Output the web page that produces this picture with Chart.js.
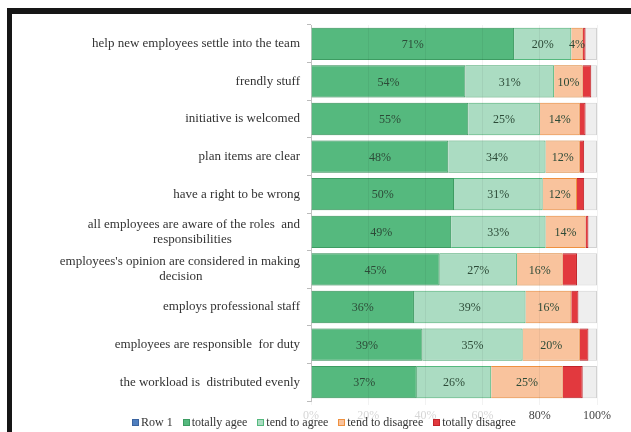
<!DOCTYPE html>
<html>
<head>
<meta charset="utf-8">
<script src="https://cdn.jsdelivr.net/npm/chart.js@4.4.0/dist/chart.umd.min.js"></script>
<style>
    body { margin: 0; background: #fff; }
    #wrap { position: relative; width: 631px; height: 432px; overflow: hidden; }
    #frame { position: absolute; left: 7px; top: 8px; right: 0; bottom: 0;
             border-top: 6px solid #161616; border-left: 5px solid #161616; }
    #chart { position: absolute; left: 0; top: 0; }
    #legend { position: absolute; left: 132px; top: 415px; display: flex;
              font: 12px "Liberation Serif", serif; color: #333; white-space: nowrap; }
    #legend .item { display: flex; align-items: center; margin-right: 10px; }
    #legend .box { width: 5px; height: 5px; border: 1px solid; margin-right: 2px; }
</style>
</head>
<body>
<div id="wrap">
    <div id="frame"></div>
    <canvas id="chart" width="631" height="432"></canvas>
    <div id="legend"></div>
</div>
<script>
// categories (top to bottom)
const categories = [
    "help new employees settle into the team",
    "frendly stuff",
    "initiative is welcomed",
    "plan items are clear",
    "have a right to be wrong",
    ["all employees are aware of the roles  and", "responsibilities"],
    ["employees's opinion are considered in making", "decision"],
    "employs professional staff",
    "employees are responsible  for duty",
    "the workload is  distributed evenly"
];

// series values, in %
const row1 = [];
const totallyAgree    = [71, 54, 55, 48, 50, 49, 45, 36, 39, 37];
const tendToAgree     = [20, 31, 25, 34, 31, 33, 27, 39, 35, 26];
const tendToDisagree  = [4, 10, 14, 12, 12, 14, 16, 16, 20, 25];
const totallyDisagree = [1, 3, 2, 1.5, 2.5, 1, 5, 2.5, 3, 7];
// grey track behind each bar (full width)
const track = [100, 100, 100, 100, 100, 100, 100, 100, 100, 100];

const xTicks = [0, 20, 40, 60, 80, 100];

const yFont = '13px "Liberation Serif"';

// draws the % labels in the middle of the bars
const barLabels = {
    id: 'barLabels',
    afterDatasetsDraw(chart) {
        const ctx = chart.ctx;
        ctx.save();
        ctx.font = '12px "Liberation Serif"';
        ctx.fillStyle = '#2c4a37';
        ctx.textAlign = 'center';
        ctx.textBaseline = 'middle';
        chart.data.datasets.forEach(function(ds, i) {
            if (!ds.showLabels) return;
            chart.getDatasetMeta(i).data.forEach(function(bar, j) {
                ctx.fillText(ds.data[j] + '%', (bar.x + bar.base) / 2, bar.y + 1);
            });
        });
        ctx.restore();
    }
};

const chart = new Chart(document.getElementById('chart'), {
    type: 'bar',
    data: {
        labels: categories,
        datasets: [
            { label: 'Row 1', data: row1, backgroundColor: '#4f7fbf', borderColor: '#3b64a0' },
            { label: 'totally agee', data: totallyAgree, backgroundColor: '#55b97e',
              borderColor: '#3d9c62', borderWidth: 1, showLabels: true },
            { label: 'tend to agree', data: tendToAgree, backgroundColor: '#abdcc2',
              borderColor: '#55b97e', borderWidth: 1, showLabels: true },
            { label: 'tend to disagree', data: tendToDisagree, backgroundColor: '#f9c39d',
              borderColor: '#ef9140', borderWidth: 1, showLabels: true },
            { label: 'totally disagree', data: totallyDisagree, backgroundColor: '#e2393e',
              borderColor: '#c02329', borderWidth: 1 },
            { label: 'track', data: track, backgroundColor: '#eeeeee', borderColor: '#d2d2d2',
              borderWidth: 1, stack: 'bg', grouped: false, order: 1, hideInLegend: true }
        ]
    },
    options: {
        indexAxis: 'y',
        responsive: false,
        animation: false,
        layout: { padding: { left: 0, right: 34, top: 25, bottom: 0 } },
        datasets: { bar: { categoryPercentage: 1, barPercentage: 0.86 } },
        plugins: {
            legend: { display: false },
            tooltip: { enabled: false }
        },
        scales: {
            x: {
                stacked: true,
                min: 0,
                max: 100,
                afterFit: function(scale) { scale.height = 31; },
                afterBuildTicks: function(scale) {
                    scale.ticks = xTicks.map(function(v) { return { value: v }; });
                },
                grid: { display: true, drawOnChartArea: true, drawTicks: true, tickLength: 4,
                        color: 'rgba(0,0,0,0.05)', z: 1 },
                border: { display: false },
                ticks: {
                    padding: 4,
                    font: { family: 'Liberation Serif', size: 12 },
                    color: function(c) { return c.tick.value >= 80 ? '#444' : '#d6d6d6'; },
                    callback: function(v) { return v + '%'; }
                }
            },
            y: {
                stacked: true,
                afterFit: function(scale) { scale.width = 311; },
                grid: { display: true, drawOnChartArea: false, tickLength: 4, color: '#bbbbbb' },
                border: { display: true, color: '#cccccc' },
                ticks: {
                    padding: 7,
                    font: { family: 'Liberation Serif', size: 13, lineHeight: 1.15 },
                    color: '#333',
                    callback: function(value) {
                        const lab = this.getLabelForValue(value);
                        if (!Array.isArray(lab)) return lab;
                        // centre the second line under the first one
                        const ctx = this.chart.ctx;
                        ctx.save();
                        ctx.font = yFont;
                        const w0 = ctx.measureText(lab[0]).width;
                        const w1 = ctx.measureText(lab[1]).width;
                        const sp = ctx.measureText(' ').width;
                        ctx.restore();
                        const n = Math.max(0, Math.round((w0 - w1) / 2 / sp));
                        return [lab[0], lab[1] + ' '.repeat(n)];
                    }
                }
            }
        }
    },
    plugins: [barLabels]
});

// legend
const $legend = document.getElementById('legend');
chart.data.datasets.forEach(function(ds) {
    if (ds.hideInLegend) return;
    const item = document.createElement('div');
    item.className = 'item';
    item.innerHTML = '<span class="box" style="background:' + ds.backgroundColor +
        ';border-color:' + ds.borderColor + '"></span>' + ds.label;
    $legend.appendChild(item);
});
</script>
</body>
</html>
